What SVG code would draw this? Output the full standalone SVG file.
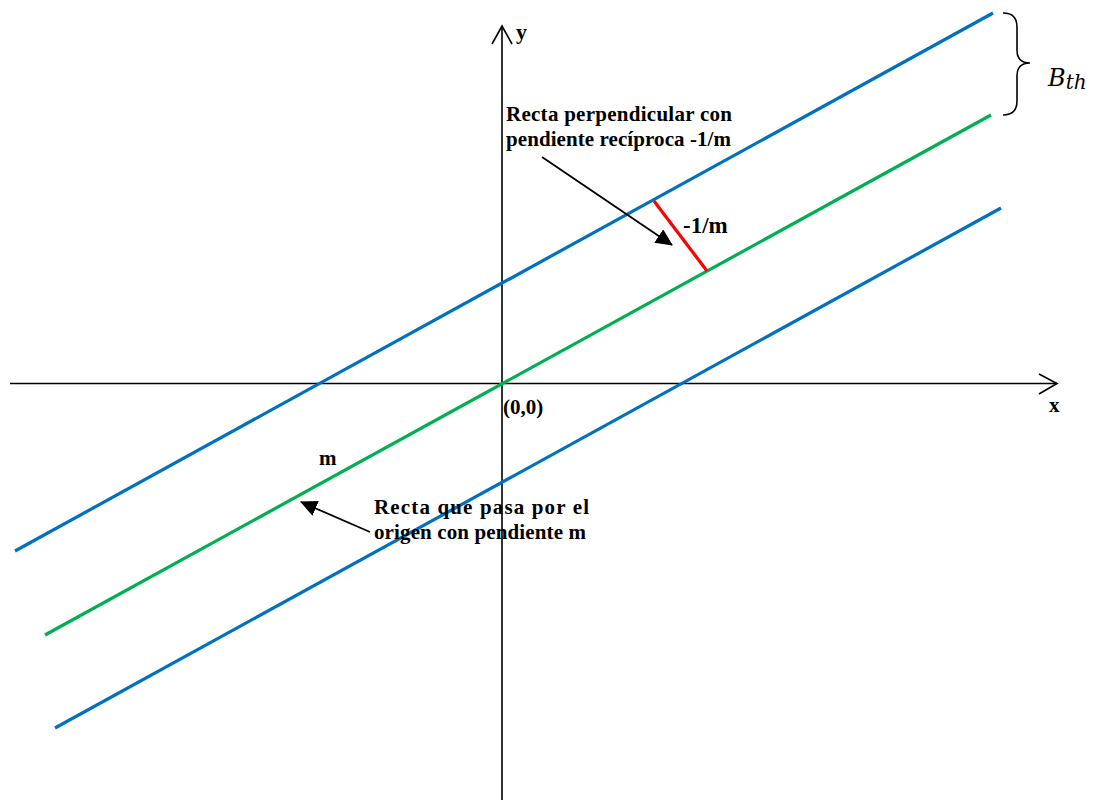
<svg xmlns="http://www.w3.org/2000/svg" width="1099" height="800" viewBox="0 0 1099 800">
<style>
.ax{stroke:#000;stroke-width:1.6;fill:none}
.blue{stroke:#0070C0;stroke-width:3.2;fill:none}
.green{stroke:#00B050;stroke-width:3.2;fill:none}
.red{stroke:#FF0000;stroke-width:3.2;fill:none}
.ptr{stroke:#000;stroke-width:1.8;fill:none}
text{font-family:"Liberation Serif","Times New Roman",serif;font-weight:bold;fill:#000}
.t{font-size:21px}
.math{font-family:"DejaVu Serif",serif;font-style:italic;font-weight:normal}
</style>
<defs>
<marker id="ah" markerWidth="17" markerHeight="16" refX="16" refY="8" orient="auto" markerUnits="userSpaceOnUse" viewBox="0 0 17 16">
<path d="M0,0 L17,8 L0,16 z" fill="#000"/>
</marker>
</defs>
<rect width="1099" height="800" fill="#fff"/>
<g id="axes">
<line class="ax" x1="10" y1="383.5" x2="1057" y2="383.5"/>
<polyline class="ax" points="1039,374 1057,383.5 1039,394"/>
<line class="ax" x1="502" y1="800" x2="502" y2="26"/>
<polyline class="ax" points="492,44 502,26 512,44"/>
<text x="1049" y="412" font-size="21">x</text>
<text x="516" y="39" font-size="22">y</text>
<text x="503" y="414" class="t">(0,0)</text>
</g>
<g id="lines">
<line class="blue" x1="15" y1="551" x2="993" y2="13"/>
<line class="green" x1="45" y1="635" x2="991" y2="115"/>
<line class="blue" x1="55" y1="728" x2="1001" y2="208"/>
<line class="red" x1="654" y1="201" x2="707" y2="271"/>
</g>
<g id="connectors">
<line class="ptr" x1="542" y1="157" x2="672" y2="245" marker-end="url(#ah)"/>
<line class="ptr" x1="370" y1="532" x2="301" y2="502" marker-end="url(#ah)"/>
</g>
<g id="label-perp">
<text x="506" y="121" class="t" textLength="226" lengthAdjust="spacing">Recta perpendicular con</text>
<text x="506" y="146" class="t" textLength="225" lengthAdjust="spacing">pendiente recíproca -1/m</text>
</g>
<g id="label-neg">
<text x="683" y="233" font-size="23">-1/m</text>
</g>
<g id="label-m">
<text x="319" y="465" class="t">m</text>
</g>
<g id="label-origin">
<text x="374" y="514" class="t" textLength="215" lengthAdjust="spacing">Recta que pasa por el</text>
<text x="374" y="539" class="t" textLength="212" lengthAdjust="spacing">origen con pendiente m</text>
</g>
<g id="brace">
<path class="ax" d="M1003,13 Q1017,13 1017,27 L1017,50 Q1017,63 1030,63 Q1017,63 1017,76 L1017,101 Q1017,115 1003,115"/>
<text x="1048" y="86" font-size="24" class="math">B<tspan font-size="20" dy="3">th</tspan></text>
</g>
</svg>
